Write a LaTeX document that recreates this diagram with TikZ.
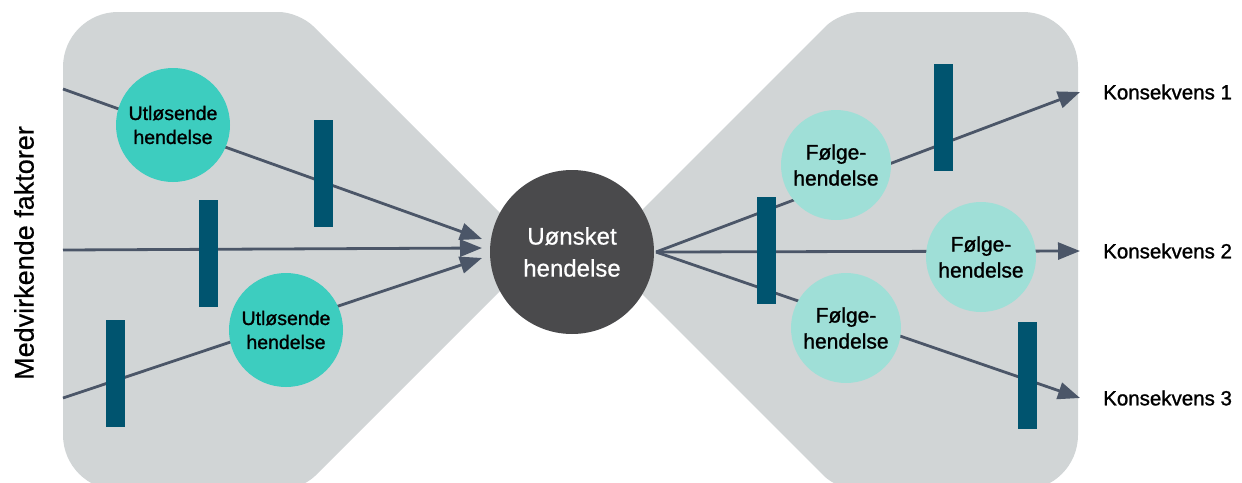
\documentclass[tikz,border=0pt]{standalone}
\usepackage{fontspec}
\setmainfont{Liberation Sans}
\newfontfamily\tykk[FakeBold=1.2]{Liberation Sans}
\newfontfamily\halvtykk[FakeBold=0.6]{Liberation Sans}
\usetikzlibrary{arrows.meta,positioning}
\definecolor{flate}{HTML}{D1D5D6}
\definecolor{utlos}{HTML}{3DCDBF}
\definecolor{folge}{HTML}{9FDFD7}
\definecolor{sperrefarge}{HTML}{00546F}
\definecolor{linjefarge}{HTML}{4B5668}
\definecolor{kjerne}{HTML}{4A4A4C}
\begin{document}
\begin{tikzpicture}[x=1pt, y=-1pt, line join=round, >={Triangle[length=22pt,width=17pt]},
	pil/.style={draw=linjefarge, line width=2.8pt},
	sperre/.style={fill=sperrefarge, minimum width=19pt, minimum height=107pt, inner sep=0pt},
	utloser/.style={circle, fill=utlos, minimum size=114pt, inner sep=0pt, align=center, font=\tykk\fontsize{19.5}{24}\selectfont},
	folgehendelse/.style={circle, fill=folge, minimum size=110pt, inner sep=0pt, align=center, font=\tykk\fontsize{21}{26}\selectfont},
	konsekvens/.style={anchor=west, inner sep=0pt, font=\tykk\fontsize{20.5}{24}\selectfont}]
	\useasboundingbox (0,0) rectangle (1242,482);
	% sloyfen
	\fill[flate] (63,250) [rounded corners=55pt] -- (63,12) [rounded corners=20pt] -- (299,12) -- (539,252) -- (301,490) [rounded corners=55pt] -- (63,490) -- cycle;
	\fill[flate] (1078,250) [rounded corners=55pt] -- (1078,12) [rounded corners=20pt] -- (840,12) -- (600,252) -- (838,490) [rounded corners=55pt] -- (1078,490) -- cycle;
	\coordinate (m1) at (63,89); \coordinate (m2) at (63,250); \coordinate (m3) at (63,398);
	\coordinate (inn1) at (482,239); \coordinate (inn2) at (482,248); \coordinate (inn3) at (482,258);
	\coordinate (ut) at (656,252);
	\coordinate (k1) at (1080,92); \coordinate (k2) at (1080,251); \coordinate (k3) at (1080,398);
	\draw[pil, ->] (m1) -- (inn1);
	\draw[pil, ->] (m2) -- (inn2);
	\draw[pil, ->] (m3) -- (inn3);
	\draw[pil, ->] (ut) -- (k1);
	\draw[pil, ->] (ut) -- (k2);
	\draw[pil, ->] (ut) -- (k3);
	\node[utloser] (utl1) at (173,125) {Utløsende\\hendelse};
	\node[utloser] (utl2) at (286,330) {Utløsende\\hendelse};
	\node[folgehendelse] (fh1) at (836,165) {Følge-\\hendelse};
	\node[folgehendelse] (fh2) at (981,257) {Følge-\\hendelse};
	\node[folgehendelse] (fh3) at (846,328) {Følge-\\hendelse};
	\node[sperre] (s1) at (323.5,173) {};
	\node[sperre] (s2) at (208,253) {};
	\node[sperre] (s3) at (115,373.5) {};
	\node[sperre] (s4) at (943.5,117) {};
	\node[sperre] (s5) at (766.5,250) {};
	\node[sperre] (s6) at (1027.5,375.5) {};
	\node[circle, fill=kjerne, minimum size=164pt, inner sep=0pt, text=white, align=center, font=\halvtykk\fontsize{24}{32}\selectfont] (uonsket) at (572,252) {Uønsket\\hendelse};
	\node[rotate=90, inner sep=0pt, font=\halvtykk\fontsize{27}{30}\selectfont] (faktorer) at (24,253) {Medvirkende faktorer};
	\node[konsekvens, right=23pt of k1] (kons1) {Konsekvens 1};
	\node[konsekvens, right=23pt of k2] (kons2) {Konsekvens 2};
	\node[konsekvens, right=23pt of k3] (kons3) {Konsekvens 3};
\end{tikzpicture}
\end{document}
